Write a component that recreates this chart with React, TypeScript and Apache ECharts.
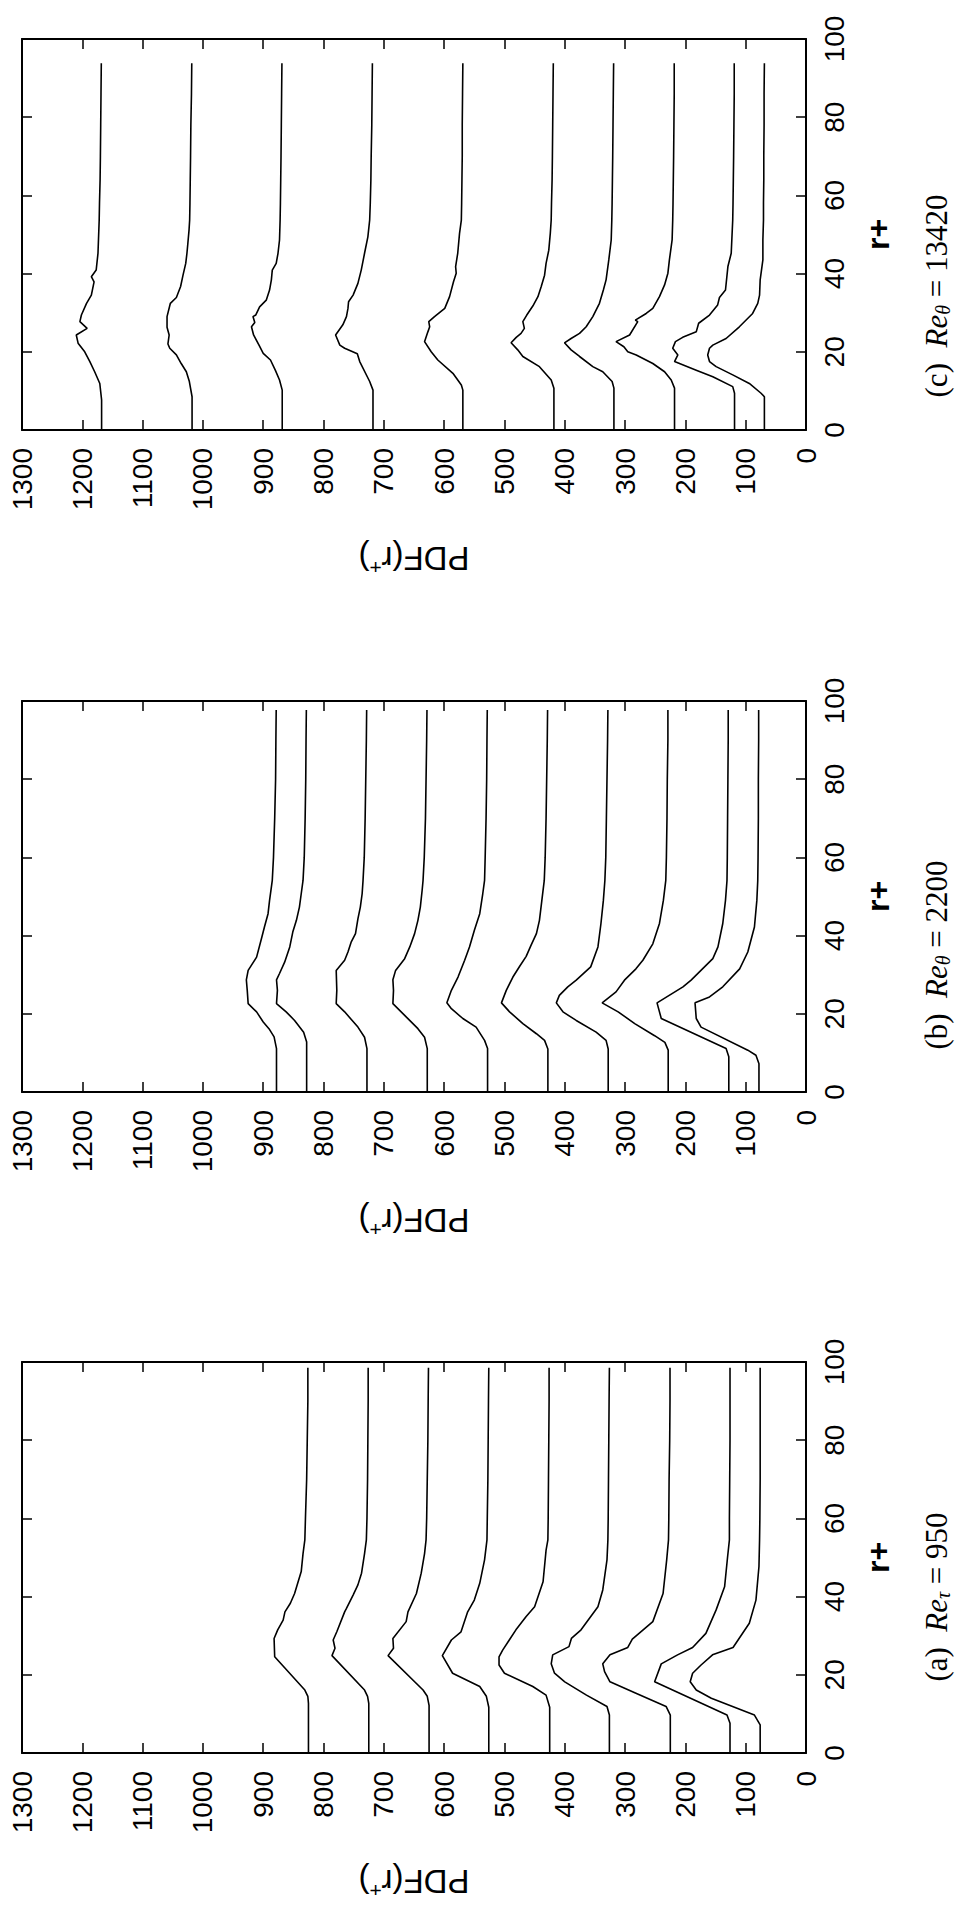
import React, { useEffect, useRef } from "react";
import * as echarts from "echarts";

type Curve = [number, number][]; // [r+, PDF(r+)]

// ---------- Panel (a)  Re_tau = 950 ----------
const a1: Curve = [[0,825],[12.7,825],[14.5,826],[16.1,831],[24.6,881],[29.3,882],[31.5,876],[34,867],[36.1,864],[38.3,855],[40.8,848],[46.4,837],[51,834],[54.5,831],[60,830],[70,828],[80,827],[90,826],[98.5,826]];
const a2: Curve = [[0,725],[12.7,725],[14.5,727],[16.1,732],[24.9,786],[26.8,781],[28.9,784],[31,778],[36.1,765],[37,762],[40.4,751],[43,743],[46,737],[51,732],[54.5,729],[60,728],[70,727],[80,726.5],[90,726],[98.5,726]];
const a3: Curve = [[0,625],[12.2,625],[14.5,628],[16.1,635],[24.9,693],[26.8,684],[29.3,685],[33.6,663],[36.1,660],[40.8,646],[46,638],[51,632.5],[54.5,630],[60,629],[70,628],[80,627],[90,626.5],[98.5,626]];
const a4: Curve = [[0,526],[11.7,526],[14.5,530],[17,541],[20.4,586],[24.9,603],[28.9,588],[31,572],[36.1,561],[39.1,550],[43.4,541],[49.4,533],[54.5,529],[60,528.5],[70,527.5],[80,527],[90,526.5],[98.5,526]];
const a5: Curve = [[0,425],[11.7,425],[14.8,431],[17,453],[20.4,500],[22.5,509],[24.6,509],[26.3,503],[28.9,492],[31.5,481],[34.9,464],[37.4,450],[43.8,436],[51.9,431],[54.5,428],[60,427.5],[70,427],[80,426.5],[90,426],[98.5,426]];
const a6: Curve = [[0,326],[9.7,326],[11.9,330],[14.8,364],[18.2,400],[20.4,417],[22.8,422.5],[25.1,420],[27.2,393],[29.3,389],[31.5,373],[37.4,345],[41.7,337],[49.4,330],[54.5,328.5],[60,328],[70,327.5],[80,327],[90,326.5],[98.5,326]];
const a7: Curve = [[0,225],[9.7,225],[11.9,232],[15.3,282],[18.2,325],[20.8,334],[22.8,337],[25.1,325],[27,295.5],[29.1,288],[33.6,254],[40.8,237],[49.4,231],[54.5,228],[60,227.5],[70,227],[80,226],[90,225.5],[98.5,225.5]];
const a8: Curve = [[0,126],[7.6,126],[9.7,131],[18.2,251],[22.8,240],[25.1,213],[27,188],[30.6,166],[36.6,149],[42.5,135],[50.2,130],[54.5,127],[60,127],[70,126.5],[80,126],[90,126],[98.5,126]];
const a9: Curve = [[0,76],[7.2,76],[9.7,85.5],[14,157],[16.1,182],[18.2,192],[20.4,188],[22.5,174],[25.1,155],[27,121],[33.2,94],[39.1,83],[47.7,78],[54.5,77],[60,76.5],[70,76],[80,76],[90,76],[98.5,76]];

// ---------- Panel (b)  Re_theta = 2200 ----------
const b1: Curve = [[0,878],[11.1,878],[14.1,882],[16.2,890.5],[17.9,900],[20.5,911],[22.6,925],[26,926.5],[28.7,928],[31.1,925],[34.5,911],[39.2,903],[42.2,898],[45.6,892],[49,889.5],[52.4,886.5],[54.1,885],[60,883],[70,881],[80,879.5],[90,879],[97.7,878.5]];
const b2: Curve = [[0,828],[12.8,828],[15.3,833],[18.3,848],[20.5,862],[22.6,878],[26,876.5],[28.7,878],[30.3,873],[33.2,864.5],[37.1,856],[40.9,851],[43.9,845],[47.3,840],[50.7,837],[54.1,834],[60,832],[70,830.5],[80,829.5],[90,829],[97.7,828.5]];
const b3: Curve = [[0,728],[11.1,728],[14,732],[16.6,743],[20.5,765],[22.6,779],[26,778],[31.1,779],[33.7,765],[35.8,759.5],[38.4,754],[40.5,747],[44.3,743],[47.3,739],[50.7,736],[54.1,734.5],[60,732.5],[70,731],[80,730],[90,729],[97.7,728.5]];
const b4: Curve = [[0,628],[11.1,628],[14,632.5],[16.2,643.5],[19.2,663],[22.6,685],[26,684],[28.7,685],[31.1,680.5],[34.1,665.5],[37.1,657],[40.5,649],[43.9,643.5],[47.3,639.5],[51.6,636.5],[54.1,635],[60,633],[70,631],[80,630],[90,629],[97.7,628.5]];
const b5: Curve = [[0,528],[11.1,528],[13.2,533],[16.6,547],[18.8,569],[21.3,588],[22.8,595.5],[26,588],[29.4,577],[33.7,566],[37.1,558],[41.3,550],[45.6,541],[50.7,536],[54.1,533],[60,532],[70,530.5],[80,529.5],[90,529],[97.7,528.5]];
const b6: Curve = [[0,428],[11,428],[13.2,433.5],[14.9,447],[17.5,469.5],[20.5,491.5],[22.8,505],[26,497],[29.4,486],[32.1,475],[34.7,464],[37.5,456],[40.5,447],[43.9,442],[49,438],[54.1,434],[60,432.5],[70,431],[80,430],[90,429],[97.7,428.5]];
const b7: Curve = [[0,328],[11,328],[13.2,331.5],[15.3,348],[18.3,381],[20.5,403],[22.8,414],[24.7,409],[26.9,395],[28.6,381],[32,357],[37.1,345],[43.1,340],[49,336],[54.1,333.5],[60,332],[70,331],[80,330],[90,329],[97.7,328.5]];
const b8: Curve = [[0,228.5],[10.7,228.5],[12.7,234],[14.4,251],[17.5,284],[20.5,311.5],[22.8,338],[25.6,315],[28.6,301],[31.5,282],[33.7,270.5],[37.9,254],[43.1,243],[49,236.5],[54.1,232.5],[60,231.5],[70,230.5],[80,230],[90,229],[97.7,229]];
const b9: Curve = [[0,128],[9,128],[11.1,132.5],[18.8,240],[22.8,247],[26.9,204],[28.6,190.5],[34.1,154.5],[37.1,146],[43.1,138],[49,133.5],[54.1,131],[60,130.5],[70,130],[80,129.5],[90,129],[97.7,129]];
const b10: Curve = [[0,78],[7.2,78],[9.4,83],[10.7,96.5],[16.6,174],[18.8,182],[22.8,184],[24.3,160],[26.9,138],[31.5,110],[35.8,96.5],[42.2,85.5],[49,81.5],[54.1,80],[60,79.5],[70,79],[80,79],[90,78.5],[97.7,78.5]];

// ---------- Panel (c)  Re_theta = 13420 ----------
const c1: Curve = [[0,1168],[7.7,1168],[11.9,1171],[14.9,1179.5],[17.5,1187.5],[20,1196],[22.2,1207],[24.3,1210],[26,1192],[27.7,1204],[29.4,1201.5],[32.4,1193],[34.5,1185],[37.9,1180.5],[39.2,1185],[40.9,1177],[45.2,1174],[53.7,1172],[58,1171.5],[64,1170.5],[70,1170],[78,1169.5],[86,1169],[93.8,1168.5]];
const c2: Curve = [[0,1018],[8.5,1018],[12.4,1022.5],[14.9,1027.5],[17,1036],[19.2,1044],[20.9,1055],[22,1058],[24.3,1056],[26.3,1059.5],[29,1059.5],[32.4,1054],[33.9,1044],[36.7,1037],[39.6,1033],[42.6,1028.5],[45.2,1026.5],[47.7,1025],[51.2,1023],[53.7,1022],[58,1021.5],[64,1021],[70,1020.5],[78,1020],[86,1019],[93.8,1018.5]];
const c3: Curve = [[0,868.5],[10.2,868.5],[12.8,873],[15.3,880],[17.9,888],[19.6,900],[21.7,907],[24.3,916],[26.4,919.5],[27.5,914],[29,917],[29.4,912.5],[31.5,906],[33.2,895],[35.8,889.5],[38.4,886.5],[40.9,885],[42.6,878.5],[45.2,875.5],[48.6,873],[53.7,872],[58,871.5],[64,871],[70,870.5],[78,870],[86,869.5],[93.8,869]];
const c4: Curve = [[0,718],[10.2,718],[12.4,723.5],[17.5,740],[19.5,744],[20.9,765],[21.7,773],[24.3,780],[26.9,768],[29,762],[31.1,759.5],[32.8,758.5],[34.5,751],[37.5,743],[40.9,737.5],[45.2,732],[49.4,726.5],[53.7,723.5],[58,722.5],[64,721.5],[70,721],[78,720],[86,719.5],[93.8,719]];
const c5: Curve = [[0,569],[10.2,569],[11.5,571.5],[14.5,585.5],[17.9,610.5],[20,621.5],[22.6,632.5],[25.1,627],[26.4,624],[27.7,625.5],[29,616],[31.1,599],[34.1,591],[37.9,584.5],[40.1,580],[41.8,581],[45.2,577.5],[50.3,574.5],[53.7,571.5],[58,571],[64,570.5],[70,570],[78,570],[86,569.5],[93.8,569]];
const c6: Curve = [[0,418],[10.7,418],[12.8,422.5],[16.2,442],[18.8,469.5],[20.5,478],[22.3,489],[23.7,480.5],[24.7,472.5],[26,467],[27.7,469.5],[29.4,463],[31.7,453],[34.1,444.5],[36.7,439],[39.6,433.5],[42.6,431],[46,426.5],[50.3,424],[53.7,422.5],[58,422],[64,421],[70,420.5],[78,420],[86,419.5],[93.8,419]];
const c7: Curve = [[0,318.5],[10.7,318.5],[12.4,321.5],[14.9,337],[16.2,353.5],[18.8,375.5],[20.5,389.5],[22.3,400.5],[23.4,389.5],[24.7,375.5],[26.4,364.5],[29,353.5],[32.4,342.5],[35.8,336],[38.4,331.5],[43.5,327],[48.6,323],[53.7,322],[58,321.5],[64,321],[70,320.5],[78,320],[86,319.5],[93.8,319]];
const c8: Curve = [[0,218],[10.7,218],[12.8,223.5],[14.9,234.5],[17,254],[19.2,281.5],[20,295.5],[21.3,302],[22.6,315],[24.3,292.5],[27.7,279],[28.1,283],[29.8,265],[31.1,254],[34.1,243],[37.1,234.5],[40.1,229],[43.5,226.5],[48.6,222],[53.7,221],[58,220.5],[64,220],[70,219.5],[78,219],[86,218.5],[93.8,218.5]];
const c9: Curve = [[0,118.5],[9.4,118.5],[11.1,121.5],[13.6,154.5],[15.3,182],[17.5,218],[19.2,212.5],[20.9,221],[22.6,216.5],[23.7,204.5],[25.1,182],[27.3,178],[29.4,160],[32,146.5],[33.9,143.5],[35.8,133.5],[41.8,129.5],[45.2,124],[53.7,121.5],[58,121],[64,120.5],[70,120],[78,119.5],[86,119],[93.8,119]];
const c10: Curve = [[0,69],[8.5,69],[9.4,74.5],[11.9,94],[14.1,121.5],[16.2,149],[17.5,160],[19.2,163],[20.9,160],[21.7,154.5],[23.4,132.5],[26.4,110.5],[29.8,88.5],[32.4,80],[34.5,77],[38.4,76],[43.5,71.5],[48.6,71.5],[53.7,70.5],[58,70.5],[64,70],[70,70],[78,69.5],[86,69.5],[93.8,69]];

const curvesA = [a1, a2, a3, a4, a5, a6, a7, a8, a9];
const curvesB = [b1, b2, b3, b4, b5, b6, b7, b8, b9, b10];
const curvesC = [c1, c2, c3, c4, c5, c6, c7, c8, c9, c10];

// axis ranges
const PDF_MIN = 0, PDF_MAX = 1300, PDF_STEP = 100;
const R_MIN = 0, R_MAX = 100, R_STEP = 20;

// captions
const captionLetters = ["(c)", "(b)", "(a)"];
const captionSubs = ["θ", "θ", "τ"];
const captionValues = ["13420", "2200", "950"];

// layout (top to bottom: c, b, a)
const panelCurves = [curvesC, curvesB, curvesA];
const panelTops = [39, 701, 1362];
const captionY = [296, 955, 1597];

const SANS = "'Liberation Sans', Arial, Helvetica, sans-serif";
const SERIF = "'Liberation Serif', 'Times New Roman', serif";

export default function App() {
  const ref = useRef<HTMLDivElement>(null);
  useEffect(() => {
    if (!ref.current) return;
    const chart = echarts.init(ref.current, null, { renderer: "svg" });
    const grid: any[] = [];
    const xAxis: any[] = [];
    const yAxis: any[] = [];
    const series: any[] = [];
    const graphic: any[] = [];
    const axisLine = { show: true, onZero: false, lineStyle: { color: "#000", width: 2 } };
    const axisTick = { show: true, inside: true, length: 10, lineStyle: { color: "#000", width: 1.5 } };
    const labelBase = {
      fontSize: 28, fontFamily: SANS, color: "#000", hideOverlap: false,
      showMinLabel: true, showMaxLabel: true, formatter: (v: number) => String(v),
    };

    panelCurves.forEach((curves, i) => {
      grid.push({ left: 22, top: panelTops[i], width: 784, height: 391 });
      xAxis.push({
        type: "value", gridIndex: i, position: "bottom", inverse: true,
        min: PDF_MIN, max: PDF_MAX, interval: PDF_STEP,
        axisLine, axisTick, splitLine: { show: false },
        axisLabel: { ...labelBase, rotate: 90, margin: 18 },
        name: "PDF(r{sup|+})", nameLocation: "middle", nameRotate: 180, nameGap: 108,
        nameTextStyle: {
          fontSize: 33, fontFamily: SANS, color: "#000", lineHeight: 40,
          rich: { sup: { fontSize: 21, fontFamily: SANS, color: "#000", lineHeight: 21, verticalAlign: "top" } },
        },
      });
      xAxis.push({
        type: "value", gridIndex: i, position: "top", inverse: true,
        min: PDF_MIN, max: PDF_MAX, interval: PDF_STEP,
        axisLine, axisTick, splitLine: { show: false }, axisLabel: { show: false },
      });
      yAxis.push({
        type: "value", gridIndex: i, position: "right",
        min: R_MIN, max: R_MAX, interval: R_STEP,
        axisLine, axisTick, splitLine: { show: false },
        axisLabel: { ...labelBase, rotate: 90, margin: 14 },
        name: "r+", nameLocation: "middle", nameRotate: 90, nameGap: 56,
        nameTextStyle: { fontSize: 32, fontFamily: SANS, fontWeight: "bold", color: "#000" },
      });
      yAxis.push({
        type: "value", gridIndex: i, position: "left",
        min: R_MIN, max: R_MAX, interval: R_STEP,
        axisLine, axisTick, splitLine: { show: false }, axisLabel: { show: false },
      });
      curves.forEach((c) => {
        series.push({
          type: "line", xAxisIndex: 2 * i, yAxisIndex: 2 * i,
          data: c.map(([r, v]) => [v, r]),
          showSymbol: false, symbol: "none", silent: true,
          lineStyle: { color: "#000", width: 1.6 },
        });
      });
      graphic.push({
        type: "text", x: 936, y: captionY[i], rotation: Math.PI / 2, z: 10,
        style: {
          text: `{n|${captionLetters[i]}  }{i|Re}{s|${captionSubs[i]}}{n| = ${captionValues[i]}}`,
          align: "center", verticalAlign: "middle",
          fontFamily: SERIF, fontSize: 31, fill: "#000",
          rich: {
            n: { fontFamily: SERIF, fontSize: 31, lineHeight: 34, fill: "#000" },
            i: { fontFamily: SERIF, fontSize: 31, fontStyle: "italic", lineHeight: 34, fill: "#000" },
            s: { fontFamily: SERIF, fontSize: 20, fontStyle: "italic", lineHeight: 18, verticalAlign: "bottom", fill: "#000" },
          },
        },
      });
    });

    chart.setOption({
      animation: false,
      backgroundColor: "#fff",
      grid, xAxis, yAxis, series, graphic,
    });
    return () => chart.dispose();
  }, []);
  return <div ref={ref} style={{ position: "absolute", left: 0, top: 0, width: 958, height: 1906 }} />;
}
